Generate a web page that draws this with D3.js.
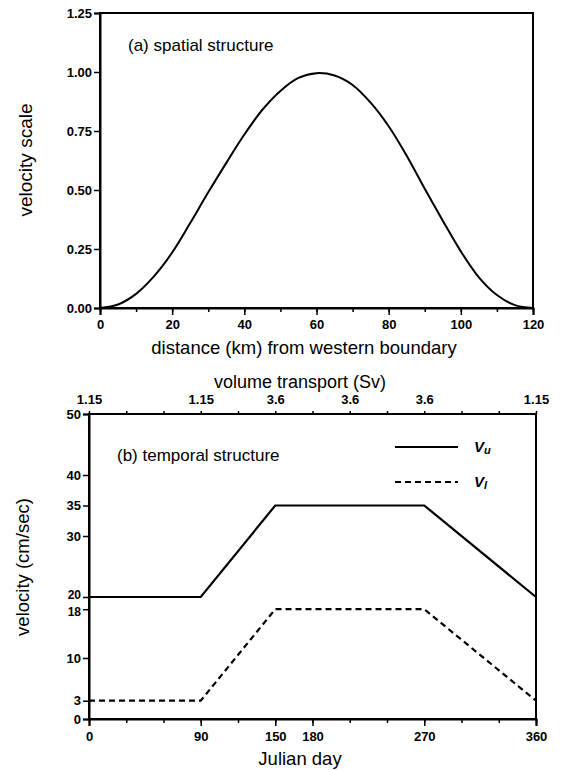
<!DOCTYPE html>
<html>
<head>
<meta charset="utf-8">
<script src="https://cdn.jsdelivr.net/npm/d3@7"></script>
<style>
  body { margin: 0; background: #fff; }
  svg { font-family: "Liberation Sans", Arial, sans-serif; }
  .tick text { font-weight: bold; font-size: 13px; fill: #000; }
  .domain, .tick line { stroke: #000; }
</style>
</head>
<body>
<div id="chart"></div>
<script>
// (a) spatial structure, every 5 km
const distanceKm = [0, 5, 10, 15, 20, 25, 30, 35, 40, 45, 50, 55, 60,
  65, 70, 75, 80, 85, 90, 95, 100, 105, 110, 115, 120];
const velocityScale = [0, 0.015, 0.06, 0.135, 0.235, 0.36, 0.49, 0.615, 0.735, 0.84, 0.92, 0.975, 0.995,
  0.985, 0.945, 0.87, 0.77, 0.645, 0.505, 0.37, 0.24, 0.13, 0.055, 0.012, 0];
const scaleTicks = [0, 0.25, 0.5, 0.75, 1.0, 1.25];
const distanceTicks = [0, 20, 40, 60, 80, 100, 120];

// (b) temporal structure
const julianDay = [0, 90, 150, 270, 360];
const vUpper = [20, 20, 35, 35, 20];
const vLower = [3, 3, 18, 18, 3];
const velocityTicks = [0, 3, 10, 18, 20, 30, 35, 40, 50];
const dayTicks = [0, 90, 150, 180, 270, 360];
const transportDays = [0, 90, 150, 210, 270, 360];
const transportLabels = ["1.15", "1.15", "3.6", "3.6", "3.6", "1.15"];

const width = 566;
const height = 770;

const svg = d3.select("#chart")
  .append("svg")
  .attr("width", width)
  .attr("height", height);

// ---------- panel (a) ----------
const xa = d3.scaleLinear().domain([0, 120]).range([100, 533]);
const ya = d3.scaleLinear().domain([0, 1.25]).range([308, 13]);

const ga = svg.append("g");

ga.append("rect")
  .attr("x", xa(0)).attr("y", ya(1.25))
  .attr("width", xa(120) - xa(0)).attr("height", ya(0) - ya(1.25))
  .attr("fill", "none").attr("stroke", "#000").attr("stroke-width", 2);

ga.append("g")
  .attr("transform", `translate(${xa(0)},0)`)
  .call(d3.axisLeft(ya).tickValues(scaleTicks).tickFormat(d3.format(".2f")).tickSize(6).tickPadding(2))
  .call(g => g.select(".domain").attr("stroke-width", 2));

ga.append("g")
  .attr("transform", `translate(0,${ya(0)})`)
  .call(d3.axisBottom(xa).tickValues(d3.range(0, 121, 10)).tickSize(4).tickFormat(() => ""))
  .call(g => g.select(".domain").remove());

ga.append("g")
  .attr("transform", `translate(0,${ya(0)})`)
  .call(d3.axisBottom(xa).tickValues(distanceTicks).tickSize(7).tickPadding(5))
  .call(g => g.select(".domain").attr("stroke-width", 2));

ga.selectAll(".tick line").attr("stroke-width", 1.5);

ga.append("path")
  .datum(distanceKm.map((d, i) => [d, velocityScale[i]]))
  .attr("fill", "none")
  .attr("stroke", "#000")
  .attr("stroke-width", 2)
  .attr("d", d3.line().x(d => xa(d[0])).y(d => ya(d[1])).curve(d3.curveCatmullRom));

ga.append("text")
  .attr("x", 128).attr("y", 51)
  .style("font-size", "17px")
  .text("(a) spatial structure");

ga.append("text")
  .attr("x", 304).attr("y", 354)
  .attr("text-anchor", "middle")
  .style("font-size", "18.5px")
  .text("distance (km) from western boundary");

ga.append("text")
  .attr("transform", "rotate(-90)")
  .attr("x", -160).attr("y", 32)
  .attr("text-anchor", "middle")
  .style("font-size", "19px")
  .text("velocity scale");

// ---------- panel (b) ----------
const xb = d3.scaleLinear().domain([0, 360]).range([89, 536]);
const yb = d3.scaleLinear().domain([0, 50]).range([719, 414]);

const gb = svg.append("g");

gb.append("rect")
  .attr("x", xb(0)).attr("y", yb(50))
  .attr("width", xb(360) - xb(0)).attr("height", yb(0) - yb(50))
  .attr("fill", "none").attr("stroke", "#000").attr("stroke-width", 2);

gb.append("g")
  .attr("transform", `translate(${xb(0)},0)`)
  .call(d3.axisLeft(yb).tickValues(velocityTicks).tickSize(6).tickPadding(2))
  .call(g => g.select(".domain").attr("stroke-width", 2))
  .call(g => g.selectAll(".tick text")
    .attr("dy", d => d === 20 ? "0.1em" : d === 18 ? "0.5em" : "0.32em")
    .style("font-size", d => (d === 20 || d === 18) ? "12px" : null));

gb.append("g")
  .attr("transform", `translate(0,${yb(0)})`)
  .call(d3.axisBottom(xb).tickValues(d3.range(0, 361, 30)).tickSize(4).tickFormat(() => ""))
  .call(g => g.select(".domain").remove());

gb.append("g")
  .attr("transform", `translate(0,${yb(0)})`)
  .call(d3.axisBottom(xb).tickValues(dayTicks).tickSize(7).tickPadding(6))
  .call(g => g.select(".domain").attr("stroke-width", 2));

gb.append("g")
  .attr("transform", `translate(0,${yb(50)})`)
  .call(d3.axisTop(xb).tickValues(d3.range(0, 361, 30)).tickSize(3).tickFormat(() => ""))
  .call(g => g.select(".domain").remove());

gb.append("g")
  .attr("transform", `translate(0,${yb(50)})`)
  .call(d3.axisTop(xb).tickValues(transportDays).tickSize(0).tickPadding(10)
    .tickFormat((d, i) => transportLabels[i]))
  .call(g => g.select(".domain").remove());

gb.selectAll(".tick line").attr("stroke-width", 1.5);

const line = d3.line().x(d => xb(d[0])).y(d => yb(d[1]));

gb.append("path")
  .datum(julianDay.map((d, i) => [d, vUpper[i]]))
  .attr("fill", "none").attr("stroke", "#000").attr("stroke-width", 2.2)
  .attr("d", line);

gb.append("path")
  .datum(julianDay.map((d, i) => [d, vLower[i]]))
  .attr("fill", "none").attr("stroke", "#000").attr("stroke-width", 2.2)
  .attr("stroke-dasharray", "6,4")
  .attr("d", line);

gb.append("text")
  .attr("x", 117).attr("y", 461)
  .style("font-size", "17px")
  .text("(b) temporal structure");

// legend
const legend = [
  { sub: "u", dash: null, y: 447 },
  { sub: "l", dash: "6,4", y: 482 }
];
legend.forEach(d => {
  gb.append("line")
    .attr("x1", 395).attr("x2", 458).attr("y1", d.y).attr("y2", d.y)
    .attr("stroke", "#000").attr("stroke-width", 2)
    .attr("stroke-dasharray", d.dash);
  const t = gb.append("text")
    .attr("x", 474).attr("y", d.y + 5)
    .style("font-size", "15px").style("font-weight", "bold").style("font-style", "italic");
  t.append("tspan").text("V");
  t.append("tspan").attr("dy", 2).style("font-size", "11px").text(d.sub);
});

gb.append("text")
  .attr("x", 300).attr("y", 388)
  .attr("text-anchor", "middle")
  .style("font-size", "18px")
  .text("volume transport (Sv)");

gb.append("text")
  .attr("x", 300).attr("y", 765)
  .attr("text-anchor", "middle")
  .style("font-size", "18.5px")
  .text("Julian day");

gb.append("text")
  .attr("transform", "rotate(-90)")
  .attr("x", -567).attr("y", 29)
  .attr("text-anchor", "middle")
  .style("font-size", "18.5px")
  .text("velocity (cm/sec)");
</script>
</body>
</html>
